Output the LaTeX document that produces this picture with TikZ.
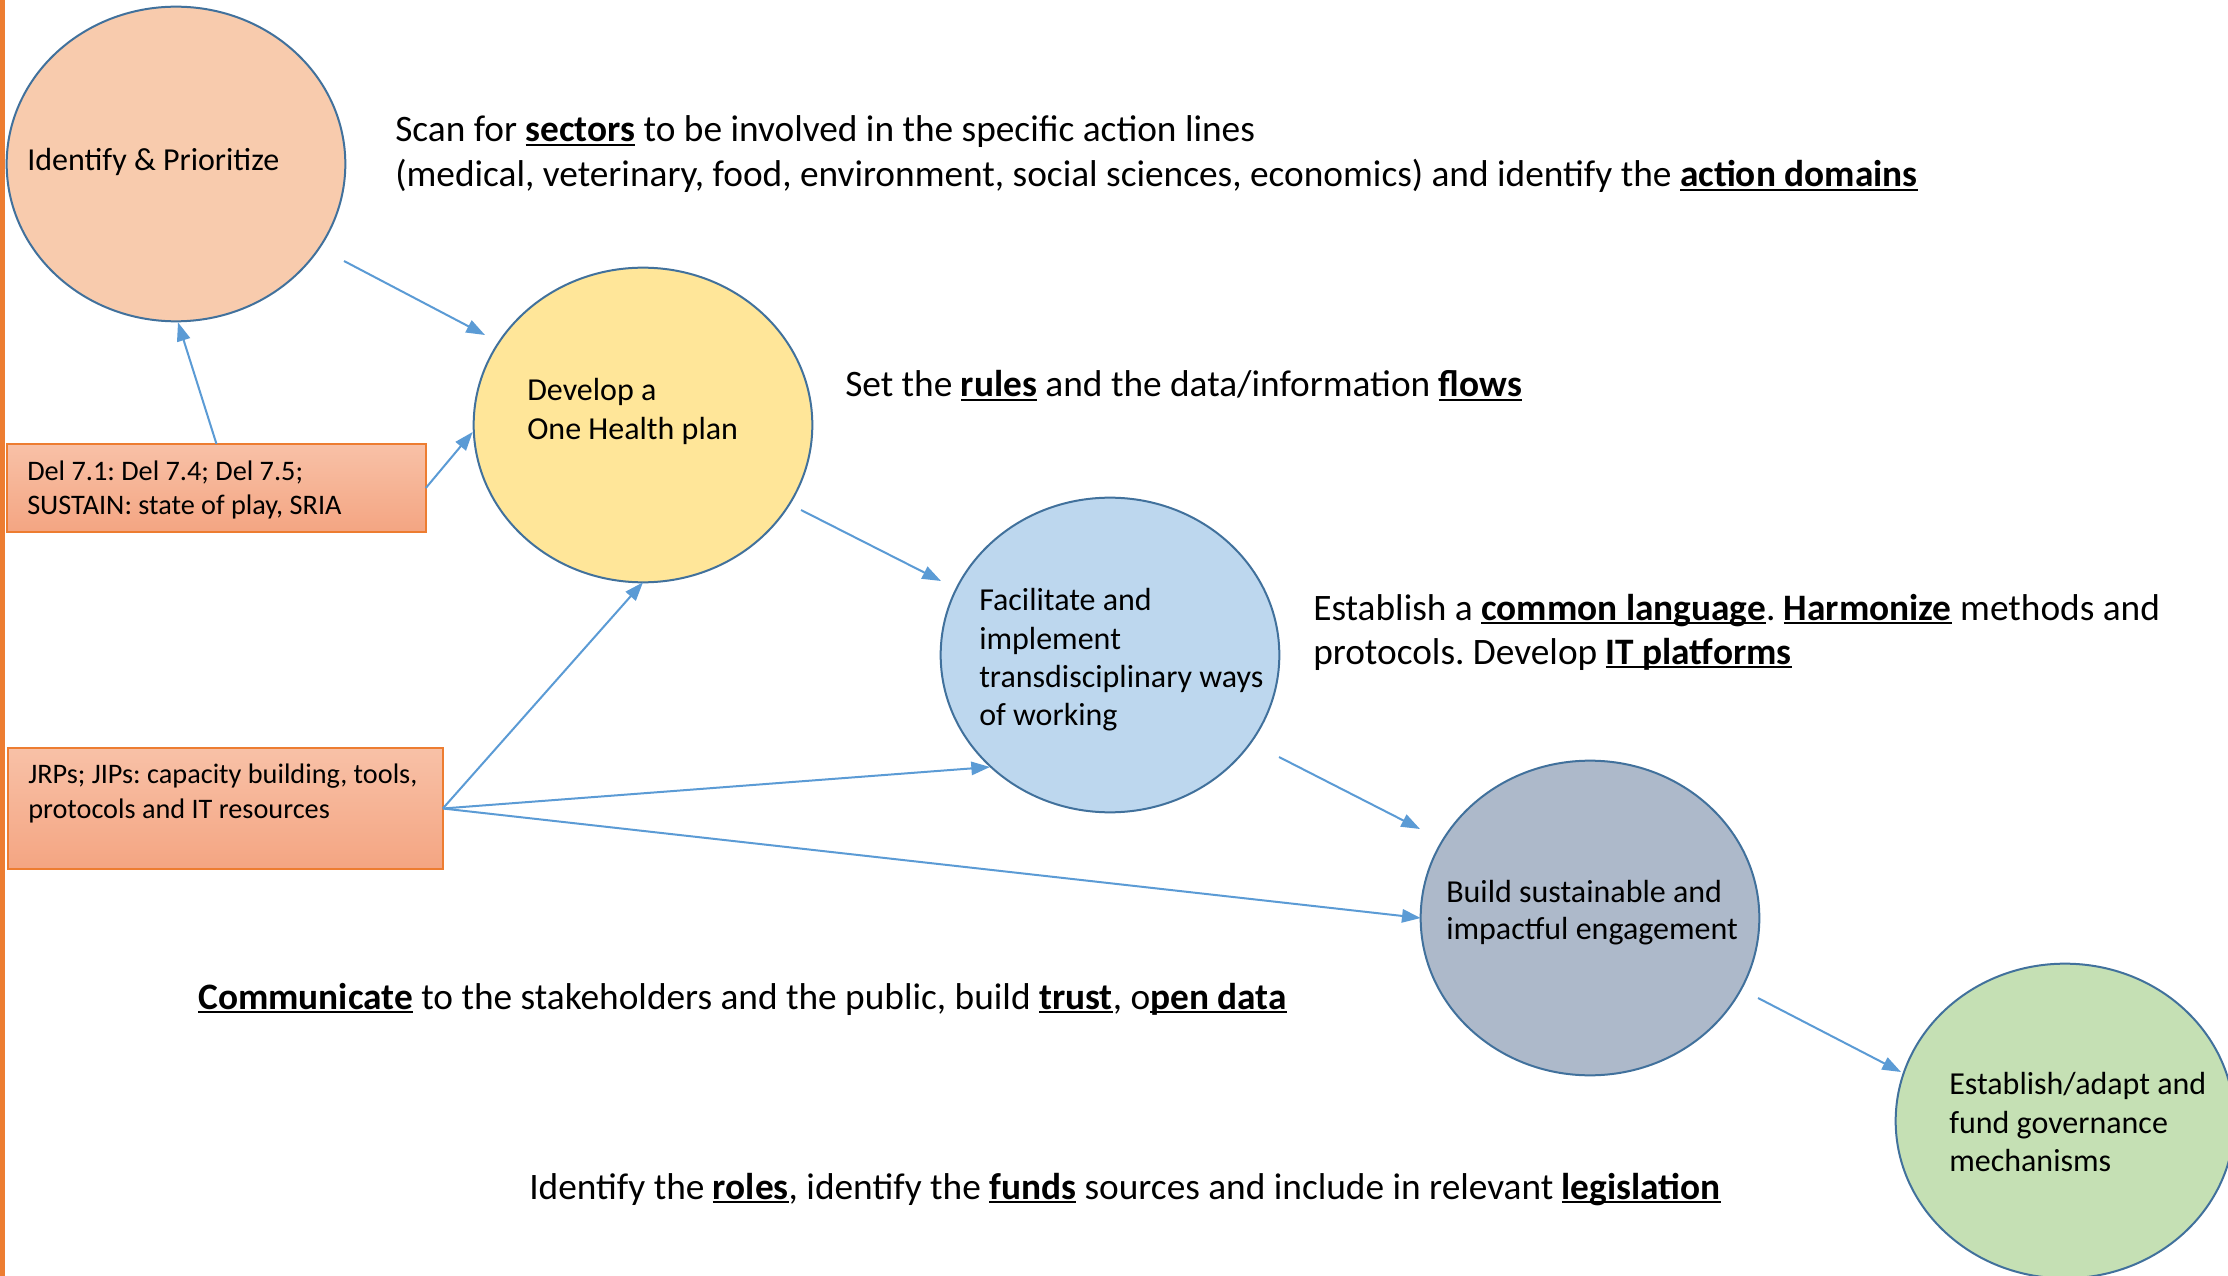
\documentclass[tikz,border=0pt]{standalone}
\usepackage{fontspec}
\setmainfont{Carlito}
\usetikzlibrary{shapes.geometric,arrows.meta,calc}
\definecolor{bordc}{HTML}{41719C}
\definecolor{arrc}{HTML}{5B9BD5}
\definecolor{fillA}{HTML}{F8CBAD}
\definecolor{fillB}{HTML}{FFE699}
\definecolor{fillC}{HTML}{BDD7EE}
\definecolor{fillD}{HTML}{ADB9CA}
\definecolor{fillE}{HTML}{C5E0B4}
\definecolor{boxtop}{HTML}{F8C1A7}
\definecolor{boxbot}{HTML}{F4A582}
\definecolor{orangec}{HTML}{ED7D31}
\newcommand\ulb[1]{\setbox0=\hbox{\bfseries #1}\rlap{\rule[-0.12em]{\wd0}{0.07em}}\box0\relax}
\frenchspacing
\begin{document}
\begin{tikzpicture}[x=0.75pt,y=-0.75pt,
  ell/.style={ellipse, draw=bordc, line width=1.5pt, minimum width=254pt, minimum height=236pt, inner sep=0pt, outer sep=0pt},
  inbox/.style={draw=orangec, line width=1.1pt, shading=axis, top color=boxtop, bottom color=boxbot, inner sep=0pt, outer sep=0pt},
  etext/.style={anchor=base west, inner sep=0pt, font=\fontsize{24pt}{28pt}\selectfont},
  btext/.style={anchor=base west, inner sep=0pt, font=\fontsize{21.2pt}{25pt}\selectfont},
  mtext/.style={anchor=base west, inner sep=0pt, font=\fontsize{28pt}{33pt}\selectfont},
  arr/.style={draw=arrc, line width=1.5pt, -{Triangle[length=14pt,width=10pt]}}]
\useasboundingbox (0,0) rectangle (2228,1276);
\fill[white] (0,0) rectangle (2228,1276);
\fill[orangec] (0,0) rectangle (5,1276);

% ellipses
\node[ell, fill=fillA] (E1) at (176,164) {};
\node[ell, fill=fillB] (E2) at (643,425) {};
\node[ell, fill=fillC] (E3) at (1110,655) {};
\node[ell, fill=fillD] (E4) at (1590,918) {};
\node[ell, fill=fillE] (E5) at (2065,1121) {};

% input boxes
\node[inbox, minimum width=314pt, minimum height=66pt] (Del) at (216.5,488) {};
\node[inbox, minimum width=326pt, minimum height=91pt] (JRP) at (225.5,808.5) {};

% ellipse texts
\node[etext] (t1) at (27,171) {Identify \& Prioritize};
\node[etext] (t2a) at (527,401) {Develop a};
\node[etext] (t2b) at (527,440) {One Health plan};
\node[etext] (t3a) at (979,610) {Facilitate and};
\node[etext] (t3b) at (979,649) {implement};
\node[etext] (t3c) at (979,687) {transdisciplinary ways};
\node[etext] (t3d) at (979,725) {of working};
\node[etext] (t4a) at (1446,902) {Build sustainable and};
\node[etext] (t4b) at (1446,939) {impactful engagement};
\node[etext] (t5a) at (1949,1094) {Establish/adapt and};
\node[etext] (t5b) at (1949,1133) {fund governance};
\node[etext] (t5c) at (1949,1171) {mechanisms};

% box texts
\node[btext] (d1) at (27,481) {Del 7.1: Del 7.4; Del 7.5;};
\node[btext] (d2) at (27,515) {SUSTAIN: state of play, SRIA};
\node[btext] (j1) at (28,783) {JRPs; JIPs: capacity building, tools,};
\node[btext] (j2) at (28,818) {protocols and IT resources};

% main texts
\node[mtext] (m1a) at (395,142) {Scan for \ulb{sectors} to be involved in the specific action lines};
\node[mtext] (m1b) at (395,187) {(medical, veterinary, food, environment, social sciences, economics) and identify the \ulb{action domains}};
\node[mtext] (m2) at (845,397) {Set the \ulb{rules} and the data/information \ulb{flows}};
\node[mtext] (m3a) at (1313,620) {Establish a \ulb{common language}. \ulb{Harmonize} methods and};
\node[mtext] (m3b) at (1313,664) {protocols. Develop \ulb{IT platforms}};
\node[mtext] (m4) at (198,1009) {\ulb{Communicate} to the stakeholders and the public, build \ulb{trust}, o\ulb{pen data}};
\node[mtext] (m5) at (529,1199) {Identify the \ulb{roles}, identify the \ulb{funds} sources and include in relevant \ulb{legislation}};

% connectors
\draw[arr] ($(E1.center)+(168,97)$) -- ($(E2.center)+(-158,-90)$);
\draw[arr] (Del.north) -- ($(E1.south)+(2,1)$);
\draw[arr] (Del.east) -- ($(E2.west)+(-1,7)$);
\draw[arr] ($(E2.center)+(158,85)$) -- ($(E3.center)+(-169,-74)$);
\draw[arr] (JRP.east) -- (E2.south);
\draw[arr] (JRP.east) -- ($(E3.center)+(-120,112)$);
\draw[arr] (JRP.east) -- (E4.west);
\draw[arr] ($(E3.center)+(169,102)$) -- ($(E4.center)+(-170,-89)$);
\draw[arr] ($(E4.center)+(168,80)$) -- ($(E5.center)+(-164,-49)$);
\end{tikzpicture}
\end{document}
